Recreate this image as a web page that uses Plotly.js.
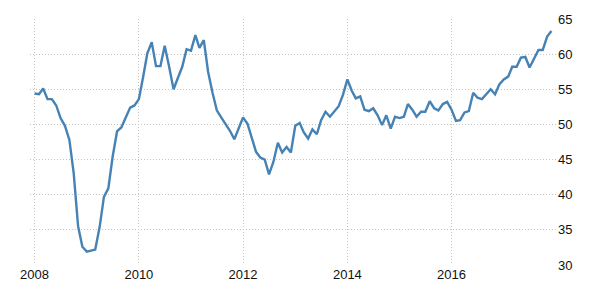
<!DOCTYPE html>
<html>
<head>
<meta charset="utf-8">
<script src="https://cdn.plot.ly/plotly-3.0.1.min.js"></script>
<style>html,body{margin:0;padding:0;background:#fff;}#chart{width:600px;height:300px;}</style>
</head>
<body>
<div id="chart"></div>
<script>
// Monthly values, Jan 2008 .. Dec 2017
const startYear = 2008;
const v2008 = [54.4, 54.3, 55.1, 53.6, 53.6, 52.7, 50.9, 49.8, 47.8, 43.1, 35.5, 32.6];
const v2009 = [31.9, 32.0, 32.2, 35.4, 39.7, 40.9, 45.4, 49.0, 49.6, 51.0, 52.4, 52.7];
const v2010 = [53.6, 56.9, 60.1, 61.7, 58.3, 58.3, 61.2, 58.2, 55.0, 56.6, 58.2, 60.7];
const v2011 = [60.5, 62.7, 60.9, 62.0, 57.5, 54.5, 52.0, 51.0, 50.1, 49.1, 47.9, 49.4];
const v2012 = [51.0, 50.1, 48.2, 46.1, 45.3, 45.0, 42.9, 44.7, 47.4, 46.0, 46.8, 46.0];
const v2013 = [49.8, 50.2, 48.9, 48.0, 49.3, 48.6, 50.6, 51.8, 51.1, 51.8, 52.6, 54.2];
const v2014 = [56.4, 54.8, 53.7, 54.0, 52.1, 51.9, 52.3, 51.3, 49.9, 51.3, 49.4, 51.1];
const v2015 = [50.9, 51.1, 52.9, 52.1, 51.1, 51.8, 51.8, 53.3, 52.3, 52.0, 52.9, 53.2];
const v2016 = [52.1, 50.5, 50.6, 51.7, 51.9, 54.5, 53.8, 53.6, 54.3, 55.0, 54.3, 55.7];
const v2017 = [56.4, 56.8, 58.2, 58.2, 59.5, 59.6, 58.1, 59.3, 60.6, 60.6, 62.5, 63.3];
const yTicks = [30, 35, 40, 45, 50, 55, 60, 65];
const xTickLabels = ['2008', '2010', '2012', '2014', '2016'];

const values = [].concat(v2008, v2009, v2010, v2011, v2012, v2013, v2014, v2015, v2016, v2017);
const dates = values.map((_, i) => {
  const y = startYear + Math.floor(i / 12);
  const m = (i % 12) + 1;
  return y + '-' + String(m).padStart(2, '0') + '-01';
});

const font = {family: '"Liberation Sans Narrow", "Arial Narrow", Arial, sans-serif', size: 13, color: '#111'};

Plotly.newPlot('chart', [{
  x: dates, y: values, type: 'scatter', mode: 'lines',
  line: {color: '#4682b4', width: 2.4},
  hoverinfo: 'skip'
}], {
  width: 600, height: 300,
  margin: {l: 30, r: 43, t: 19, b: 35},
  paper_bgcolor: '#fff', plot_bgcolor: '#fff',
  showlegend: false,
  font: font,
  xaxis: {
    type: 'date',
    range: ['2007-11-30', '2018-01-09'],
    tickvals: xTickLabels.map(t => t + '-01-01'),
    ticktext: xTickLabels,
    showgrid: true, gridcolor: '#c4c4c4', griddash: '1px,2px', gridwidth: 1,
    zeroline: false, showline: false, ticks: '',
    tickfont: font
  },
  yaxis: {
    side: 'right',
    range: [30, 65],
    tickvals: yTicks,
    showgrid: true, gridcolor: '#c4c4c4', griddash: '1px,2px', gridwidth: 1,
    zeroline: false, showline: false, ticks: '',
    tickfont: font
  }
}, {displayModeBar: false, staticPlot: true});
</script>
</body>
</html>
